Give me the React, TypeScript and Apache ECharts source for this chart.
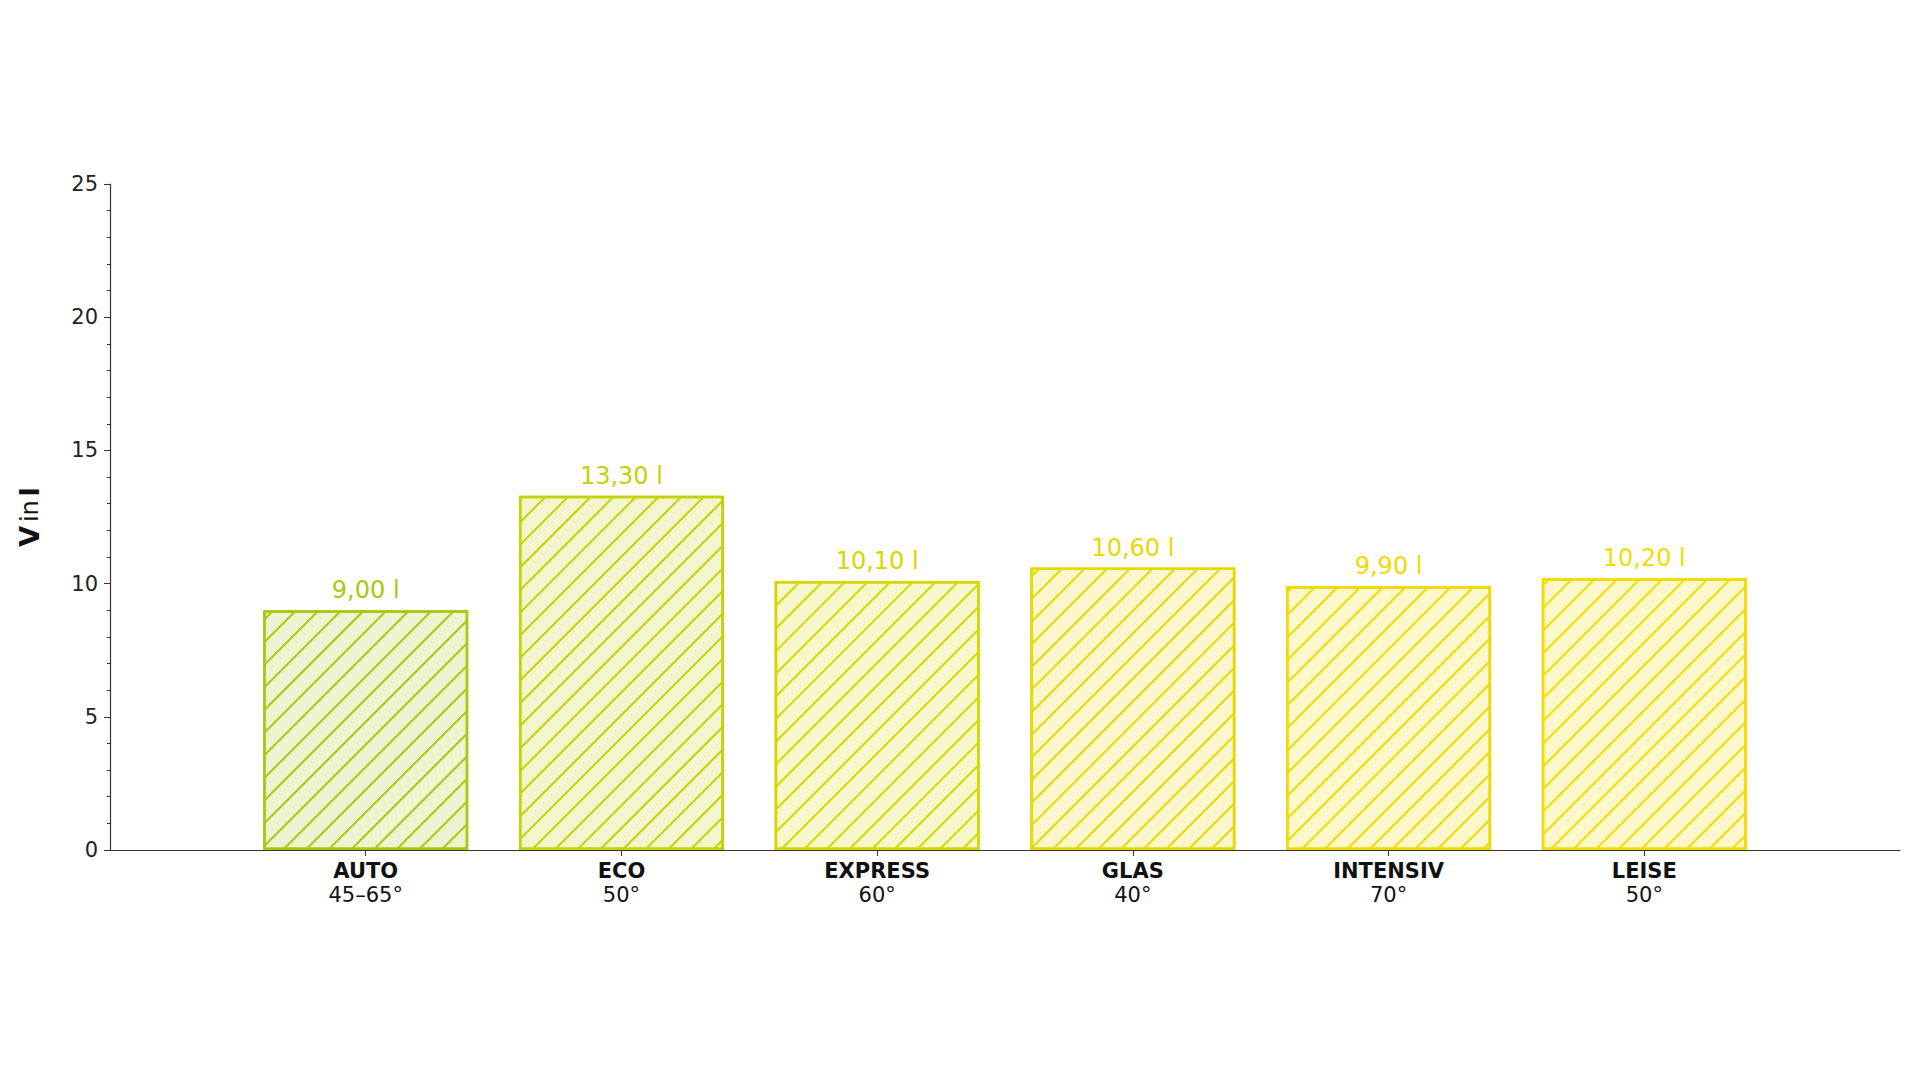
import React, { useEffect, useRef } from "react";
import * as echarts from "echarts";

const categories = ["AUTO", "ECO", "EXPRESS", "GLAS", "INTENSIV", "LEISE"];
const temps = ["45–65°", "50°", "60°", "40°", "70°", "50°"];
const values = [9.0, 13.3, 10.1, 10.6, 9.9, 10.2];
const edgeColors = ["#a8c814", "#c2d206", "#d6d600", "#e6d800", "#f0da00", "#f5dc00"];
const yTicks = { min: 0, max: 25, interval: 5 };

function rgba(hex: string, a: number) {
  const n = parseInt(hex.slice(1), 16);
  return `rgba(${(n >> 16) & 255},${(n >> 8) & 255},${n & 255},${a})`;
}

const FONT = "DejaVu Sans";

export default function App() {
  const ref = useRef<HTMLDivElement>(null);
  useEffect(() => {
    if (!ref.current) return;
    const chart = echarts.init(ref.current, undefined, { renderer: "svg" });
    const axisData = ["", ...categories.map((c, i) => `{b|${c}}\n{n|${temps[i]}}`), ""];
    const barData: any[] = ["-"];
    values.forEach((v, i) => {
      barData.push({
        value: v,
        itemStyle: {
          color: rgba(edgeColors[i], 0.2),
          borderColor: edgeColors[i],
          borderWidth: 2.5,
          decal: {
            symbol: "rect",
            symbolSize: 1,
            color: edgeColors[i],
            dashArrayX: [1, 0],
            dashArrayY: [1.6, 13.4],
            rotation: -Math.PI / 4,
          },
        },
        label: { color: edgeColors[i] },
      });
    });
    barData.push("-");
    const inner = (idx: number) => idx > 0 && idx < axisData.length - 1;
    chart.setOption({
      animation: false,
      textStyle: { fontFamily: FONT },
      grid: { left: 110, right: 20, top: 184, bottom: 230, containLabel: false },
      xAxis: {
        type: "category",
        data: axisData,
        boundaryGap: false,
        axisLine: { show: true, lineStyle: { color: "#333", width: 1.2 } },
        axisTick: { show: true, length: 6, interval: (i: number) => inner(i), lineStyle: { color: "#333" } },
        axisLabel: {
          interval: (i: number) => inner(i),
          margin: 9,
          lineHeight: 24,
          rich: {
            b: { fontFamily: FONT, fontWeight: "bold", fontSize: 21, color: "#111", lineHeight: 24 },
            n: { fontFamily: FONT, fontSize: 21, color: "#111", lineHeight: 24 },
          },
        },
        splitLine: { show: false },
      },
      yAxis: {
        type: "value",
        min: yTicks.min,
        max: yTicks.max,
        interval: yTicks.interval,
        name: "{b|V} {n|in} {b|l}",
        nameLocation: "middle",
        nameGap: 67,
        nameRotate: 90,
        nameTextStyle: {
          rich: {
            b: { fontFamily: FONT, fontWeight: "bold", fontSize: 27, color: "#111" },
            n: { fontFamily: FONT, fontSize: 24, color: "#111" },
          },
        },
        axisLine: { show: true, lineStyle: { color: "#333", width: 1.2 } },
        axisTick: { show: true, length: 6, lineStyle: { color: "#333" } },
        minorTick: { show: true, splitNumber: 5, length: 3, lineStyle: { color: "#333" } },
        axisLabel: { fontFamily: FONT, fontSize: 21, color: "#222", margin: 12 },
        splitLine: { show: false },
        minorSplitLine: { show: false },
      },
      series: [
        {
          type: "bar",
          data: barData,
          barWidth: 205,
          label: {
            show: true,
            position: "top",
            distance: 8,
            fontFamily: FONT,
            fontSize: 24,
            formatter: (p: any) => `${Number(p.value).toFixed(2).replace(".", ",")} l`,
          },
        },
      ],
    });
    return () => chart.dispose();
  }, []);
  return (
    <div
      ref={ref}
      style={{ position: "fixed", left: 0, top: 0, width: 1920, height: 1080, background: "#fff" }}
    />
  );
}
